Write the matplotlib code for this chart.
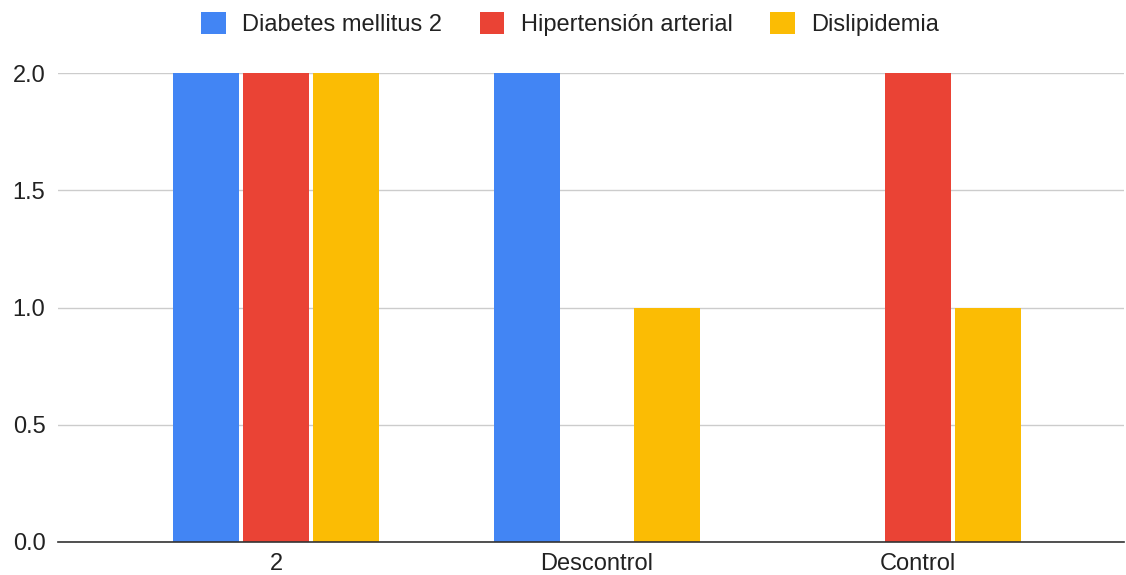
import matplotlib
matplotlib.use("Agg")
import matplotlib.pyplot as plt
from matplotlib.patches import Patch
import numpy as np

categories = ["2", "Descontrol", "Control"]
series_names = ["Diabetes mellitus 2", "Hipertensión arterial", "Dislipidemia"]
diabetes = [2, 2, 0]
hipertension = [2, 0, 2]
dislipidemia = [2, 1, 1]
colors = ["#4285F4", "#EA4335", "#FBBC04"]
y_ticks = [0.0, 0.5, 1.0, 1.5, 2.0]

plt.rcParams["font.family"] = ["Liberation Sans", "DejaVu Sans"]

W, H = 1126, 575
fig = plt.figure(figsize=(W / 100, H / 100), dpi=100)
ax = fig.add_axes([58 / W, 1 - 542 / H, (1124 - 58) / W, (542 - 73) / H])

x = np.arange(len(categories))
width = 0.206
step = 0.218
for i, (vals, col) in enumerate(zip([diabetes, hipertension, dislipidemia], colors)):
    ax.bar(x + (i - 1) * step, vals, width, color=col, zorder=3)

ax.set_xlim(-0.679, 2.642)
ax.set_ylim(0, 2.0)
ax.set_yticks(y_ticks)
ax.set_yticklabels([f"{v:.1f}" for v in y_ticks])
ax.set_xticks(x)
ax.set_xticklabels(categories)
ax.tick_params(axis="both", length=0, labelsize=17, colors="#222222")
ax.tick_params(axis="y", pad=9)
ax.tick_params(axis="x", pad=8)
ax.grid(axis="y", color="#cccccc", linewidth=1.0, zorder=0)
for s in ["top", "right", "left"]:
    ax.spines[s].set_visible(False)
ax.spines["bottom"].set_color("#333333")
ax.spines["bottom"].set_linewidth(1.2)
ax.spines["bottom"].set_zorder(4)

handles = [Patch(facecolor=c, edgecolor="none") for c in colors]
fig.legend(handles, series_names, loc="center", bbox_to_anchor=(570 / W, 1 - 24 / H),
           ncol=3, frameon=False, fontsize=17, handlelength=1.05, handleheight=1.05,
           handletextpad=0.68, columnspacing=1.6, labelcolor="#222222")

fig.savefig("out.png", dpi=100)
